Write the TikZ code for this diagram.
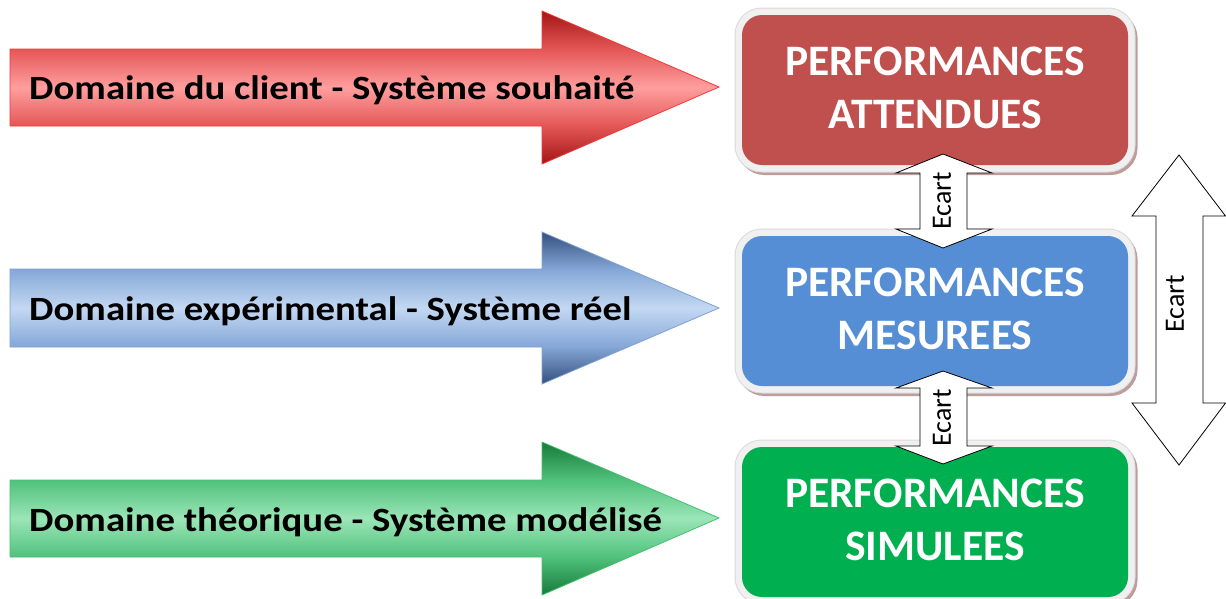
\documentclass[tikz,border=0pt]{standalone}
\usepackage{fontspec}
\setmainfont{Carlito}
\definecolor{rdark}{HTML}{A31515}
\definecolor{rmid}{HTML}{E45757}
\definecolor{rlight}{HTML}{FF9E9E}
\definecolor{rline}{HTML}{F03A3A}
\definecolor{bdark}{HTML}{33507E}
\definecolor{bmid}{HTML}{86A8D8}
\definecolor{blight}{HTML}{C3D8F2}
\definecolor{bline}{HTML}{7FA2D2}
\definecolor{gdark}{HTML}{177A3A}
\definecolor{gmid}{HTML}{50C27C}
\definecolor{glight}{HTML}{9BE5B7}
\definecolor{gline}{HTML}{45C070}
\definecolor{boxred}{HTML}{C0504D}
\definecolor{boxblue}{HTML}{558ED5}
\definecolor{boxgreen}{HTML}{00B050}
\definecolor{halo}{HTML}{F0F0F0}
\definecolor{haloline}{HTML}{DADADA}
\definecolor{shadowc}{HTML}{BE9C9C}
\pgfdeclareverticalshading{redsh}{100bp}{color(0bp)=(rdark); color(25bp)=(rdark); color(37.5bp)=(rmid); color(50bp)=(rlight); color(62.5bp)=(rmid); color(75bp)=(rdark); color(100bp)=(rdark)}
\pgfdeclareverticalshading{bluesh}{100bp}{color(0bp)=(bdark); color(25bp)=(bdark); color(37.5bp)=(bmid); color(50bp)=(blight); color(62.5bp)=(bmid); color(75bp)=(bdark); color(100bp)=(bdark)}
\pgfdeclareverticalshading{greensh}{100bp}{color(0bp)=(gdark); color(25bp)=(gdark); color(37.5bp)=(gmid); color(50bp)=(glight); color(62.5bp)=(gmid); color(75bp)=(gdark); color(100bp)=(gdark)}
\tikzset{
  domtext/.style={anchor=base west, inner sep=0pt, text=black, xscale=1.14, font=\fontsize{34}{40}\selectfont\bfseries},
  perfbox/.style={rounded corners=20pt, minimum width=386pt, minimum height=150pt, inner sep=0pt,
    text=white, align=center, font=\fontsize{43.5}{53}\selectfont\bfseries,
    preaction={draw=shadowc, line width=14pt, transform canvas={xshift=2.5pt,yshift=-3pt}},
    preaction={draw=haloline, line width=15pt},
    preaction={draw=halo, line width=13pt}},
  ecartarrow/.style={draw=black, fill=white, line width=0.8pt, line join=miter},
  ecarttext/.style={rotate=90, inner sep=0pt, font=\fontsize{28}{30}\selectfont}
}
\begin{document}
\begin{tikzpicture}[x=1pt,y=-1pt]
\useasboundingbox (0,0) rectangle (1226,598);
% domain arrows
\shade[shading=redsh, draw=rline, line width=0.8pt] (10,49) -- (542,49) -- (542,11) -- (719,87) -- (542,164) -- (542,126) -- (10,126) -- cycle;
\shade[shading=bluesh, draw=bline, line width=0.8pt] (10,269) -- (542,269) -- (542,232) -- (719,308) -- (542,384) -- (542,347) -- (10,347) -- cycle;
\shade[shading=greensh, draw=gline, line width=0.8pt] (10,480) -- (542,480) -- (542,442) -- (719,518) -- (542,595) -- (542,557) -- (10,557) -- cycle;
\node[domtext] (dclient) at (29,99) {Domaine du client - Système souhaité};
\node[domtext] (dexp) at (29,320) {Domaine expérimental - Système réel};
\node[domtext] (dtheo) at (29,531) {Domaine théorique - Système modélisé};
% boxes
\node[perfbox, fill=boxred] (att) at (935,90) {\raisebox{4pt}{PERFORMANCES}\\\raisebox{4pt}{ATTENDUES}};
\node[perfbox, fill=boxblue] (mes) at (935,311) {\raisebox{4pt}{PERFORMANCES}\\\raisebox{4pt}{MESUREES}};
\node[perfbox, fill=boxgreen] (sim) at (935,522) {\raisebox{4pt}{PERFORMANCES}\\\raisebox{4pt}{SIMULEES}};
% small ecart arrows
\draw[ecartarrow] (943,154) -- (992,173) -- (967,173) -- (967,229) -- (992,229) -- (943,248) -- (896,229) -- (920,229) -- (920,173) -- (896,173) -- cycle;
\node[ecarttext] (e1) at (942,201) {Ecart};
\draw[ecartarrow] (943,371) -- (992,388) -- (967,388) -- (967,446) -- (992,446) -- (943,464) -- (896,446) -- (920,446) -- (920,388) -- (896,388) -- cycle;
\node[ecarttext] (e2) at (942,418) {Ecart};
% big ecart arrow
\draw[ecartarrow] (1179,155) -- (1225.5,216) -- (1203,216) -- (1203,403) -- (1225.5,403) -- (1179,465) -- (1132,403) -- (1156,403) -- (1156,216) -- (1132,216) -- cycle;
\node[ecarttext] (e3) at (1175,304) {Ecart};
\end{tikzpicture}
\end{document}
